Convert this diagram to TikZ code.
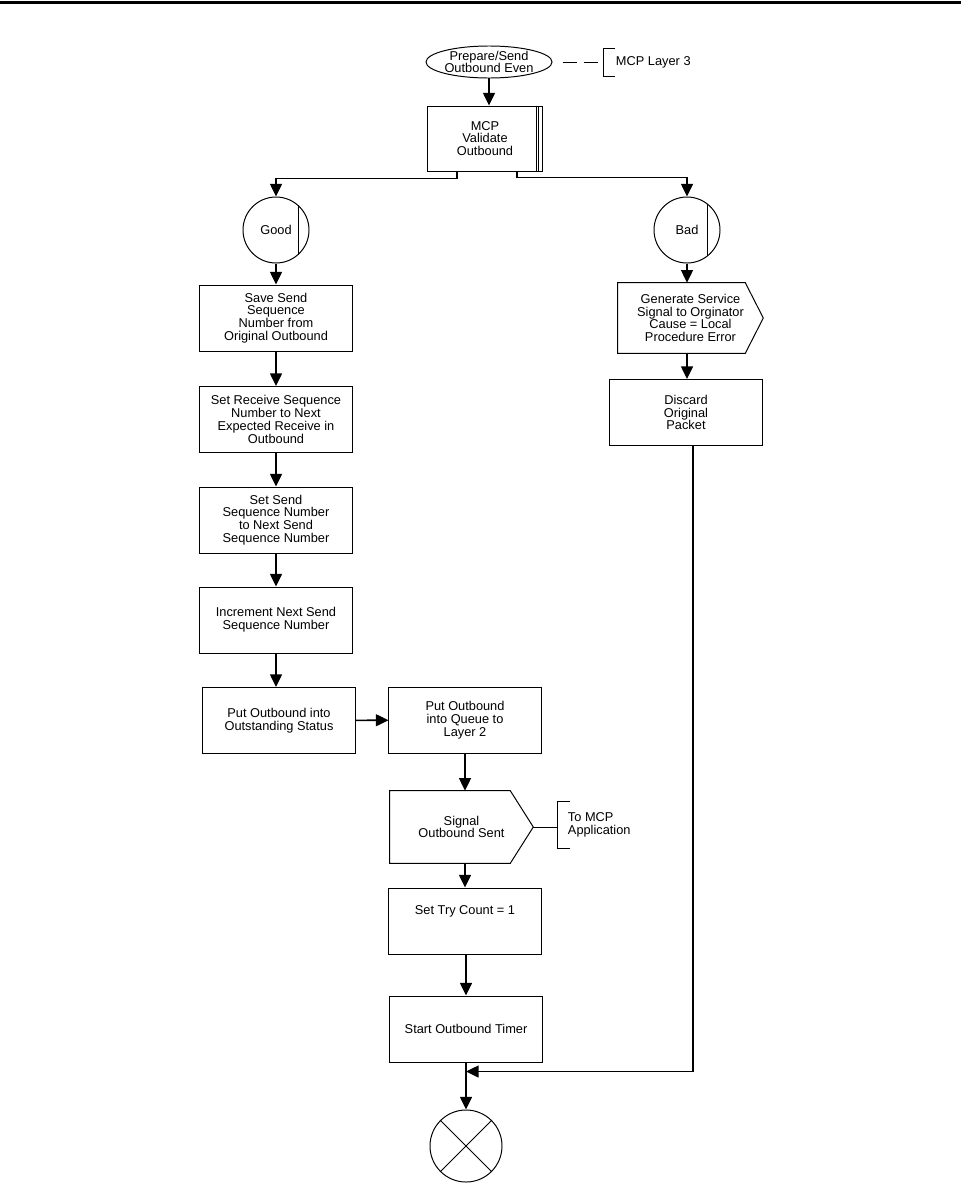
\documentclass[tikz,border=0pt]{standalone}
\usepackage{fontspec}
\setmainfont{Liberation Sans}
\usetikzlibrary{arrows.meta,calc,shapes.geometric}

\begin{document}
\begin{tikzpicture}[x=0.025cm, y=-0.025cm,
        font=\fontsize{9.1}{9.05}\selectfont,
        box/.style={draw, line width=0.7pt, minimum width=3.8cm, minimum height=1.65cm, align=center, inner sep=1pt},
        junction/.style={circle, draw, line width=0.7pt, minimum size=1.65cm, inner sep=0pt},
        flow/.style={line width=1.1pt, -{Triangle[length=9pt,width=8.5pt]}},
        note/.style={line width=0.7pt}]
        \useasboundingbox (0,0) rectangle (961,1197);
        % Page rule
        \draw[line width=2.2pt] (0,2.5) -- (961,2.5);

        % Entry event
        \node[ellipse, draw, line width=0.7pt, minimum width=3.15cm, minimum height=0.8cm, inner sep=0pt, align=center] (start) at (489,62) {Prepare/Send\\Outbound Even};
        \coordinate (brkA) at (598,62);
        \draw[note, dash pattern=on 10pt off 5pt] ($(start.east)+(10,0)$) -- (brkA);
        \draw[note] (615,48) -| (603,76) -- (615,76);
        \node[anchor=west] (layer) at (611,62) {MCP Layer 3};

        % Validation
        \node[box, minimum width=2.875cm, minimum height=1.625cm] (validate) at (485,138.5) {MCP\\Validate\\Outbound};
        \draw[note] ($(validate.north east)+(-7,0)$) -- ($(validate.south east)+(-7,0)$);
        \draw[note] ($(validate.north east)+(-5,0)$) -- ($(validate.south east)+(-5,0)$);
        \draw[flow] (start) -- (start |- validate.north);

        % Good / Bad outcomes
        \node[junction] (good) at (276,230) {Good};
        \draw[note] ($(good.center)+(22,-24.6)$) -- ($(good.center)+(22,24.6)$);
        \node[junction] (bad) at (687,230) {Bad};
        \draw[note] ($(bad.center)+(20,-26)$) -- ($(bad.center)+(20,26)$);
        \draw[flow] ($(validate.south)+(-28,0)$) -- ++(0,7) -| (good.north);
        \draw[flow] ($(validate.south)+(32,0)$) -- ++(0,6) -| (bad.north);

        % Good branch
        \node[box] (save) at (276,318) {Save Send\\Sequence\\Number from\\Original Outbound};
        \node[box] (recv) at (276,419.5) {Set Receive Sequence\\Number to Next\\Expected Receive in\\Outbound};
        \node[box] (setsend) at (276,520) {Set Send\\Sequence Number\\to Next Send\\Sequence Number};
        \node[box] (incr) at (276,620) {Increment Next Send\\Sequence Number};
        \node[box] (outst) at (279,720.5) {Put Outbound into\\Outstanding Status};
        \draw[flow] (good) -- (save);
        \draw[flow] (save) -- (recv);
        \draw[flow] (recv) -- (setsend);
        \draw[flow] (setsend) -- (incr);
        \draw[flow] (incr.south -| setsend) -- (outst.north -| setsend);

        % Queue and signal
        \node[box] (queue) at (465,720) {Put Outbound\\into Queue to\\Layer 2};
        \draw[flow] (outst) -- (queue);
        \node[minimum width=3.575cm, minimum height=1.8cm, align=center] (signal) at (461.5,827) {Signal\\Outbound Sent};
        \draw[line width=0.7pt] (signal.north west) -- ($(signal.north east)+(-23,0)$) -- (signal.east) -- ($(signal.south east)+(-23,0)$) -- (signal.south west) -- cycle;
        \draw[flow] (queue) -- (queue |- signal.north);
        \coordinate (brkB) at (557,827);
        \draw[note] (signal.east) -- (brkB);
        \draw[note] (570,801) -| (557,848) -- (570,848);
        \node[anchor=west, align=left] (tomcp) at (563,825) {To MCP\\Application};

        % Try count and timer
        \node[box, text depth=0.55cm] (tryc) at (465,921) {Set Try Count = 1};
        \node[box] (timer) at (466,1029) {Start Outbound Timer};
        \node[junction, minimum size=1.8cm] (finish) at (466,1146) {};
        \draw[note] (finish.north west) -- (finish.south east);
        \draw[note] (finish.north east) -- (finish.south west);
        \draw[flow] (tryc |- signal.south) -- (tryc);
        \draw[flow] (tryc.south -| timer) -- (timer);
        \draw[flow] (timer) -- (finish);

        % Bad branch
        \node[minimum width=3.625cm, minimum height=1.75cm, align=center] (gen) at (690.5,318) {Generate Service\\Signal to Orginator\\Cause = Local\\Procedure Error};
        \draw[line width=0.7pt] (gen.north west) -- ($(gen.north east)+(-18,0)$) -- (gen.east) -- ($(gen.south east)+(-18,0)$) -- (gen.south west) -- cycle;
        \node[box] (discard) at (686,412.5) {Discard\\Original\\Packet};
        \draw[flow] (bad) -- (bad |- gen.north);
        \draw[flow] (bad |- gen.south) -- (bad |- discard.north);
        \coordinate (merge) at ($(timer.south)+(0,9)$);
        \draw[flow] ($(discard.south)+(7,0)$) |- (merge);
    \end{tikzpicture}
\end{document}
